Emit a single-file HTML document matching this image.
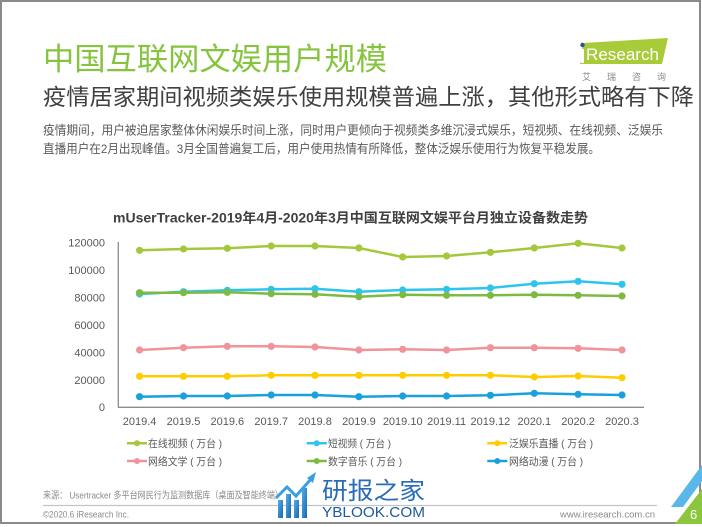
<!DOCTYPE html>
<html>
<head>
<meta charset="utf-8">
<style>
html,body{margin:0;padding:0;background:#fff;}
svg{display:block;}
text{font-family:"Liberation Sans","Noto Sans CJK SC",sans-serif;}
</style>
</head>
<body>
<svg width="702" height="527" viewBox="0 0 702 527" xmlns="http://www.w3.org/2000/svg">
<rect x="0" y="0" width="702" height="527" fill="#fff"/>
<!-- frame -->
<rect x="1" y="1" width="699" height="522" fill="none" stroke="#8a8a8a" stroke-width="2"/>

<!-- title -->
<text x="43" y="70" font-size="31" fill="#86c440" textLength="344" lengthAdjust="spacingAndGlyphs">中国互联网文娱用户规模</text>
<text x="43" y="105" font-size="22.5" fill="#404040" textLength="651" lengthAdjust="spacingAndGlyphs">疫情居家期间视频类娱乐使用规模普遍上涨，其他形式略有下降</text>
<text x="43" y="134.5" font-size="12.4" fill="#595959" textLength="620" lengthAdjust="spacingAndGlyphs">疫情期间，用户被迫居家整体休闲娱乐时间上涨，同时用户更倾向于视频类多维沉浸式娱乐，短视频、在线视频、泛娱乐</text>
<text x="43" y="153" font-size="12.4" fill="#595959" textLength="557" lengthAdjust="spacingAndGlyphs">直播用户在2月出现峰值。3月全国普遍复工后，用户使用热情有所降低，整体泛娱乐使用行为恢复平稳发展。</text>

<!-- logo -->
<polygon points="583,43 668,38 662,64 580,64" fill="#a8cb3a"/>
<circle cx="582.5" cy="45" r="2.2" fill="#2a4f9e"/>
<rect x="580.5" y="49" width="3.5" height="14" fill="#ffffff"/>
<text x="586" y="60" font-size="17" fill="#ffffff" textLength="73" lengthAdjust="spacingAndGlyphs">Research</text>
<text x="582" y="80" font-size="9" fill="#8a8a8a" textLength="84" lengthAdjust="spacing">艾瑞咨询</text>

<!-- chart title -->
<text x="113" y="222.5" font-size="13.5" font-weight="bold" fill="#404040" textLength="475" lengthAdjust="spacingAndGlyphs">mUserTracker-2019年4月-2020年3月中国互联网文娱平台月独立设备数走势</text>

<!-- y labels -->
<g font-size="11" fill="#595959" text-anchor="end">
<text x="105" y="246.5">120000</text>
<text x="105" y="274">100000</text>
<text x="105" y="301.5">80000</text>
<text x="105" y="329">60000</text>
<text x="105" y="356.5">40000</text>
<text x="105" y="384">20000</text>
<text x="105" y="411">0</text>
</g>
<!-- axes -->
<line x1="118.3" y1="242" x2="118.3" y2="407.5" stroke="#8c8c8c" stroke-width="1.3"/>
<line x1="118" y1="407.3" x2="644" y2="407.3" stroke="#8c8c8c" stroke-width="1.3"/>

<!-- x labels -->
<g font-size="11" fill="#595959" text-anchor="middle">
<text x="139.6" y="425">2019.4</text>
<text x="183.5" y="425">2019.5</text>
<text x="227.3" y="425">2019.6</text>
<text x="271.2" y="425">2019.7</text>
<text x="315" y="425">2019.8</text>
<text x="358.9" y="425">2019.9</text>
<text x="402.7" y="425">2019.10</text>
<text x="446.6" y="425">2019.11</text>
<text x="490.4" y="425">2019.12</text>
<text x="534.3" y="425">2020.1</text>
<text x="578.1" y="425">2020.2</text>
<text x="622" y="425">2020.3</text>
</g>

<!-- series -->
<g stroke-width="2.5" fill="none" stroke-linejoin="round">
<polyline stroke="#a3c83b" points="139.6,250.3 183.5,249 227.3,248.3 271.2,246 315,246 358.9,248 402.7,257 446.6,256 490.4,252.3 534.3,248 578.1,243.3 622,248"/>
<polyline stroke="#2ec4ee" points="139.6,294 183.5,291.7 227.3,290.3 271.2,289.3 315,288.7 358.9,291.7 402.7,290 446.6,289.3 490.4,288 534.3,283.7 578.1,281.3 622,284.3"/>
<polyline stroke="#ffcc00" points="139.6,376.3 183.5,376.3 227.3,376.3 271.2,375.3 315,375.3 358.9,375.3 402.7,375.3 446.6,375.3 490.4,375.3 534.3,377 578.1,376 622,377.7"/>
<polyline stroke="#f0939a" points="139.6,350 183.5,347.7 227.3,346.3 271.2,346.3 315,347 358.9,350 402.7,349.3 446.6,350 490.4,347.7 534.3,347.7 578.1,348.3 622,350"/>
<polyline stroke="#7dba42" points="139.6,292.7 183.5,292.7 227.3,292.3 271.2,293.7 315,294.3 358.9,296.7 402.7,294.7 446.6,295.3 490.4,295.3 534.3,294.7 578.1,295.3 622,296"/>
<polyline stroke="#1aa0dc" points="139.6,396.7 183.5,396 227.3,396 271.2,395 315,395 358.9,396.7 402.7,396 446.6,396 490.4,395.3 534.3,393.3 578.1,394.3 622,395"/>
</g>
<g fill="#a3c83b">
<circle cx="139.6" cy="250.3" r="3.6"/><circle cx="183.5" cy="249" r="3.6"/><circle cx="227.3" cy="248.3" r="3.6"/><circle cx="271.2" cy="246" r="3.6"/><circle cx="315" cy="246" r="3.6"/><circle cx="358.9" cy="248" r="3.6"/><circle cx="402.7" cy="257" r="3.6"/><circle cx="446.6" cy="256" r="3.6"/><circle cx="490.4" cy="252.3" r="3.6"/><circle cx="534.3" cy="248" r="3.6"/><circle cx="578.1" cy="243.3" r="3.6"/><circle cx="622" cy="248" r="3.6"/>
</g>
<g fill="#2ec4ee">
<circle cx="139.6" cy="294" r="3.6"/><circle cx="183.5" cy="291.7" r="3.6"/><circle cx="227.3" cy="290.3" r="3.6"/><circle cx="271.2" cy="289.3" r="3.6"/><circle cx="315" cy="288.7" r="3.6"/><circle cx="358.9" cy="291.7" r="3.6"/><circle cx="402.7" cy="290" r="3.6"/><circle cx="446.6" cy="289.3" r="3.6"/><circle cx="490.4" cy="288" r="3.6"/><circle cx="534.3" cy="283.7" r="3.6"/><circle cx="578.1" cy="281.3" r="3.6"/><circle cx="622" cy="284.3" r="3.6"/>
</g>
<g fill="#ffcc00">
<circle cx="139.6" cy="376.3" r="3.6"/><circle cx="183.5" cy="376.3" r="3.6"/><circle cx="227.3" cy="376.3" r="3.6"/><circle cx="271.2" cy="375.3" r="3.6"/><circle cx="315" cy="375.3" r="3.6"/><circle cx="358.9" cy="375.3" r="3.6"/><circle cx="402.7" cy="375.3" r="3.6"/><circle cx="446.6" cy="375.3" r="3.6"/><circle cx="490.4" cy="375.3" r="3.6"/><circle cx="534.3" cy="377" r="3.6"/><circle cx="578.1" cy="376" r="3.6"/><circle cx="622" cy="377.7" r="3.6"/>
</g>
<g fill="#f0939a">
<circle cx="139.6" cy="350" r="3.6"/><circle cx="183.5" cy="347.7" r="3.6"/><circle cx="227.3" cy="346.3" r="3.6"/><circle cx="271.2" cy="346.3" r="3.6"/><circle cx="315" cy="347" r="3.6"/><circle cx="358.9" cy="350" r="3.6"/><circle cx="402.7" cy="349.3" r="3.6"/><circle cx="446.6" cy="350" r="3.6"/><circle cx="490.4" cy="347.7" r="3.6"/><circle cx="534.3" cy="347.7" r="3.6"/><circle cx="578.1" cy="348.3" r="3.6"/><circle cx="622" cy="350" r="3.6"/>
</g>
<g fill="#7dba42">
<circle cx="139.6" cy="292.7" r="3.6"/><circle cx="183.5" cy="292.7" r="3.6"/><circle cx="227.3" cy="292.3" r="3.6"/><circle cx="271.2" cy="293.7" r="3.6"/><circle cx="315" cy="294.3" r="3.6"/><circle cx="358.9" cy="296.7" r="3.6"/><circle cx="402.7" cy="294.7" r="3.6"/><circle cx="446.6" cy="295.3" r="3.6"/><circle cx="490.4" cy="295.3" r="3.6"/><circle cx="534.3" cy="294.7" r="3.6"/><circle cx="578.1" cy="295.3" r="3.6"/><circle cx="622" cy="296" r="3.6"/>
</g>
<g fill="#1aa0dc">
<circle cx="139.6" cy="396.7" r="3.6"/><circle cx="183.5" cy="396" r="3.6"/><circle cx="227.3" cy="396" r="3.6"/><circle cx="271.2" cy="395" r="3.6"/><circle cx="315" cy="395" r="3.6"/><circle cx="358.9" cy="396.7" r="3.6"/><circle cx="402.7" cy="396" r="3.6"/><circle cx="446.6" cy="396" r="3.6"/><circle cx="490.4" cy="395.3" r="3.6"/><circle cx="534.3" cy="393.3" r="3.6"/><circle cx="578.1" cy="394.3" r="3.6"/><circle cx="622" cy="395" r="3.6"/>
</g>

<!-- legend -->
<g stroke-width="2.5">
<line x1="127" y1="443.3" x2="147" y2="443.3" stroke="#a3c83b"/>
<line x1="306.7" y1="443.3" x2="326.7" y2="443.3" stroke="#2ec4ee"/>
<line x1="487.3" y1="443.3" x2="507.3" y2="443.3" stroke="#ffcc00"/>
<line x1="127" y1="461" x2="147" y2="461" stroke="#f0939a"/>
<line x1="306.7" y1="461" x2="326.7" y2="461" stroke="#7dba42"/>
<line x1="487.3" y1="461" x2="507.3" y2="461" stroke="#1aa0dc"/>
</g>
<circle cx="137" cy="443.3" r="3" fill="#a3c83b"/>
<circle cx="316.7" cy="443.3" r="3" fill="#2ec4ee"/>
<circle cx="497.3" cy="443.3" r="3" fill="#ffcc00"/>
<circle cx="137" cy="461" r="3" fill="#f0939a"/>
<circle cx="316.7" cy="461" r="3" fill="#7dba42"/>
<circle cx="497.3" cy="461" r="3" fill="#1aa0dc"/>
<g font-size="10.5" fill="#595959">
<text x="148" y="447.2" textLength="74" lengthAdjust="spacingAndGlyphs">在线视频 ( 万台 )</text>
<text x="328" y="447.2" textLength="63" lengthAdjust="spacingAndGlyphs">短视频 ( 万台 )</text>
<text x="509" y="447.2" textLength="84" lengthAdjust="spacingAndGlyphs">泛娱乐直播 ( 万台 )</text>
<text x="148" y="465" textLength="74" lengthAdjust="spacingAndGlyphs">网络文学 ( 万台 )</text>
<text x="328" y="465" textLength="74" lengthAdjust="spacingAndGlyphs">数字音乐 ( 万台 )</text>
<text x="509" y="465" textLength="74" lengthAdjust="spacingAndGlyphs">网络动漫 ( 万台 )</text>
</g>

<!-- footer -->
<text x="43" y="498.5" font-size="9.5" fill="#8a8a8a" textLength="240" lengthAdjust="spacingAndGlyphs">来源： Usertracker 多平台网民行为监测数据库（桌面及智能终端）</text>
<line x1="43" y1="505.5" x2="657" y2="505.5" stroke="#c4c4c4" stroke-width="1.2"/>
<text x="43" y="517.5" font-size="9.5" fill="#8a8a8a" textLength="86" lengthAdjust="spacingAndGlyphs">©2020.6 iResearch Inc.</text>
<text x="655" y="517.5" font-size="9.5" fill="#8a8a8a" text-anchor="end">www.iresearch.com.cn</text>

<!-- watermark -->
<defs>
<linearGradient id="wg" x1="0" y1="0" x2="1" y2="1">
<stop offset="0" stop-color="#4fb0ea"/>
<stop offset="1" stop-color="#1b64ad"/>
</linearGradient>
</defs>
<g fill="url(#wg)">
<rect x="278" y="500" width="5" height="18"/>
<rect x="286" y="494" width="5" height="24"/>
<rect x="294" y="500" width="5" height="18"/>
<rect x="302" y="488" width="5" height="30"/>
</g>
<polyline points="276,498 287,487 296,496 311,479" fill="none" stroke="#3b9ee0" stroke-width="3"/>
<polygon points="307,478 316,472 313,483" fill="#3b9ee0"/>
<text x="322" y="499" font-size="24" fill="#2a6db6" textLength="103" lengthAdjust="spacingAndGlyphs">研报之家</text>
<text x="322" y="517" font-size="15" fill="#1c5c9c" textLength="103" lengthAdjust="spacingAndGlyphs">YBLOOK.COM</text>

<!-- corner decoration -->
<polygon points="671,507 702,465 702,481 683,507" fill="#5ab7ea"/>
<polygon points="675,524 702,489 702,524" fill="#8cc63f"/>
<text x="690" y="519" font-size="13" fill="#ffffff">6</text>
</svg>
</body>
</html>
